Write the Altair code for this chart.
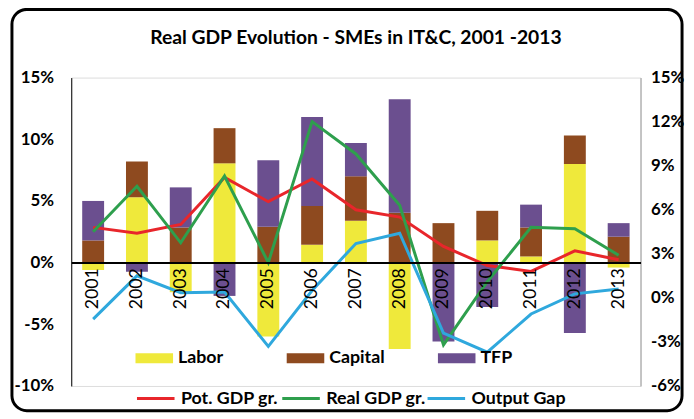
import altair as alt
import pandas as pd

years = [str(y) for y in range(2001, 2014)]

# stacked bar components (left axis, %)
labor = [-0.6, 5.3, -2.4, 8.05, -6.0, 1.45, 3.4, -7.0, -0.1, 1.8, 0.5, 8.0, -0.4]
capital = [1.8, 2.9, 2.85, 2.85, 2.9, 3.15, 3.6, 4.05, 3.2, 2.4, 2.35, 2.3, 2.1]
tfp = [3.2, -0.75, 3.25, -2.7, 5.4, 7.2, 2.7, 9.2, -6.3, -3.6, 1.85, -5.7, 1.1]

# lines (right axis, %)
pot_gdp = [4.8, 4.4, 5.0, 8.2, 6.55, 8.1, 6.0, 5.5, 3.5, 2.2, 1.8, 3.2, 2.6]
real_gdp = [4.5, 7.6, 3.75, 8.3, 2.4, 12.0, 9.8, 6.3, -3.2, 1.1, 4.8, 4.7, 2.9]
output_gap = [-1.45, 1.5, 0.35, 0.4, -3.3, 0.5, 3.7, 4.4, -2.4, -3.7, -1.1, 0.27, 0.6]

bar_names = ["Labor", "Capital", "TFP"]
bar_colors = ["#EFE93B", "#8E4A1F", "#6B4F8F"]
line_names = ["Pot. GDP gr.", "Real GDP gr.", "Output Gap"]
line_colors = ["#E8262B", "#2E9F4D", "#2FA8DD"]

left_ticks = [-10, -5, 0, 5, 10, 15]
right_ticks = [-6, -3, 0, 3, 6, 9, 12, 15]

rows = []
for i, yr in enumerate(years):
    for k, (n, vals) in enumerate(zip(bar_names, [labor, capital, tfp])):
        rows.append({"year": yr, "component": n, "value": vals[i], "ord": k})
bars_df = pd.DataFrame(rows)

lrows = []
for k, (n, vals) in enumerate(zip(line_names, [pot_gdp, real_gdp, output_gap])):
    for i, yr in enumerate(years):
        lrows.append({"year": yr, "series": n, "value": vals[i], "ord": k})
lines_df = pd.DataFrame(lrows)

W, H = 576, 312
FONT = "Lato"

x_enc = alt.X(
    "year:N", sort=years,
    scale=alt.Scale(paddingInner=0.5, paddingOuter=0.25),
    axis=alt.Axis(title=None, orient="bottom", offset=-H * 10 / 25, labelAngle=-90,
                  labelFontSize=18, labelFont=FONT, labelColor="black", ticks=False,
                  domainColor="black", domainWidth=2, labelPadding=5, zindex=1),
)

frame = alt.Chart(pd.DataFrame({"a": [0]})).mark_rect(
    fillOpacity=0, stroke="black", strokeWidth=3, cornerRadius=15
).encode(x=alt.value(-60), x2=alt.value(618), y=alt.value(-69), y2=alt.value(337))

bars = alt.Chart(bars_df).mark_bar().encode(
    x=x_enc,
    y=alt.Y("value:Q", stack="zero",
            scale=alt.Scale(domain=[-10, 15], nice=False, zero=False),
            axis=alt.Axis(values=left_ticks, labelExpr="datum.value + '%'", title=None,
                          grid=False, ticks=False, domainColor="black", labelPadding=18,
                          labelFontSize=17, labelFont=FONT, labelFontWeight="bold",
                          labelColor="black")),
    color=alt.Color("component:N", scale=alt.Scale(domain=bar_names, range=bar_colors),
                    legend=alt.Legend(title=None, orient="none", legendX=65, legendY=265,
                                      direction="horizontal", columns=3, gridAlign="all",
                                      columnPadding=53, symbolType="M-1,-0.27H1V0.27H-1Z",
                                      symbolSize=1444, symbolStrokeWidth=0,
                                      symbolOpacity=1, labelFontSize=18, labelFont=FONT,
                                      labelFontWeight="bold", labelColor="black",
                                      labelOffset=5, padding=0)),
    order=alt.Order("ord:Q"),
)

lines = alt.Chart(lines_df).mark_line(strokeWidth=3).encode(
    x=x_enc,
    y=alt.Y("value:Q", scale=alt.Scale(domain=[-6, 15], nice=False, zero=False),
            axis=alt.Axis(orient="right", values=right_ticks, labelExpr="datum.value + '%'",
                          title=None, grid=False, ticks=False, domainColor="#999999",
                          labelPadding=10, labelFontSize=17, labelFont=FONT,
                          labelFontWeight="bold", labelColor="black")),
    stroke=alt.Stroke("series:N", scale=alt.Scale(domain=line_names, range=line_colors),
                      legend=alt.Legend(title=None, orient="none", legendX=65, legendY=304,
                                        direction="horizontal", columns=3, gridAlign="all",
                                        columnPadding=-8, symbolType="stroke",
                                        symbolSize=1444, symbolStrokeWidth=3,
                                        labelFontSize=18, labelFont=FONT,
                                        labelFontWeight="bold", labelColor="black",
                                        labelOffset=5, padding=0)),
    order=alt.Order("ord:Q"),
)

chart = alt.layer(frame, bars, lines).resolve_scale(y="independent").properties(
    width=W, height=H,
    title=alt.TitleParams("Real GDP Evolution - SMEs in IT&C, 2001 -2013", fontSize=19.5,
                          font=FONT, fontWeight="bold", offset=-41, anchor="middle",
                          color="black"),
    autosize=alt.AutoSizeParams(type="none"),
    padding={"left": 64, "top": 68, "right": 46, "bottom": 30},
).configure_view(strokeWidth=0).configure(background="white")

chart.save("out.html", embed_options={"renderer": "svg", "actions": False})
